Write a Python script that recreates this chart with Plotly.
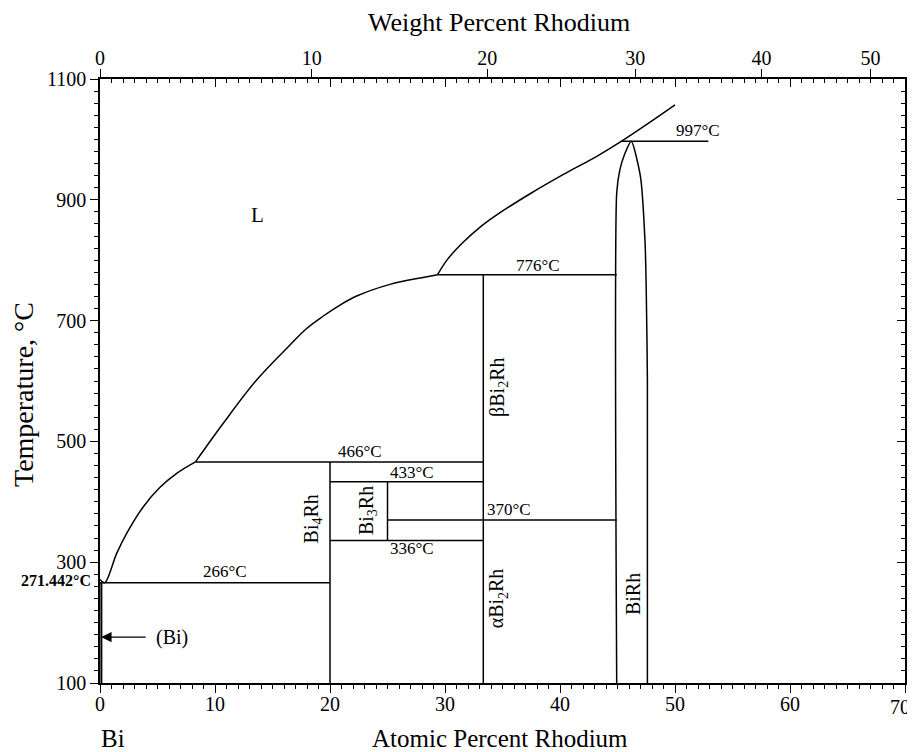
import plotly.graph_objects as go

# ---------------- data (atomic % Rh, temperature in degC) ----------------
M_BI = 208.98
M_RH = 102.906

liq_low_x = [0.0, 0.40, 1.45, 2.32, 3.77, 5.22, 6.67, 8.30]
liq_low_t = [271.442, 266, 314.7, 347.8, 391.9, 424, 447, 466]

liq_mid_x = [8.30, 10.72, 13.62, 16.52, 17.97, 19.42, 20.87, 22.32, 25.22, 28.1, 29.35]
liq_mid_t = [466, 530, 601.7, 659.6, 687, 707.6, 725.8, 740.7, 760, 771.5, 776]

liq_up_x = [29.35, 30.2, 31.6, 33.0, 34.5, 37.4, 40.3, 43.2, 45.36, 47.8, 50.0]
liq_up_t = [776, 801, 830, 854, 875, 910, 942, 972, 997, 1028, 1057]

birh_x = [44.93, 44.93, 45.2, 45.65, 46.2, 47.0, 47.4, 47.5, 47.6, 47.6]
birh_t = [100, 911, 949, 977, 997, 938, 828, 750, 600, 100]

# horizontal invariant lines: (x_start, x_end, T)
hlines = [
    (45.36, 52.9, 997),
    (29.35, 44.93, 776),
    (8.30, 33.33, 466),
    (20.0, 33.33, 433),
    (25.0, 44.93, 370),
    (20.0, 33.33, 336),
    (0.0, 20.0, 266),
]
# vertical phase lines: (x, T_low, T_high)
vlines = [
    (33.33, 100, 776),
    (20.0, 100, 466),
    (25.0, 336, 433),
]
bi_solvus_x = [0.12, 0.12]
bi_solvus_t = [100, 266]

temp_labels = [
    ("997°C", 52.0, 1014),
    ("776°C", 38.1, 792),
    ("466°C", 22.6, 484),
    ("433°C", 27.1, 449),
    ("370°C", 35.6, 388),
    ("336°C", 27.1, 322),
    ("266°C", 10.9, 284),
]
phase_labels_rot = [
    ("Bi<sub>4</sub>Rh", 18.5, 372),
    ("Bi<sub>3</sub>Rh", 23.2, 386),
    ("βBi<sub>2</sub>Rh", 34.6, 590),
    ("αBi<sub>2</sub>Rh", 34.6, 240),
    ("BiRh", 46.3, 248),
]

wt_ticks = [0, 10, 20, 30, 40, 50]
at_ticks = [0, 10, 20, 30, 40, 50, 60, 70]
t_ticks = [100, 300, 500, 700, 900, 1100]


def wt_to_at(w):
    a = w / M_RH
    b = (100 - w) / M_BI
    return 100 * a / (a + b)


FONT = "Liberation Serif"
LW = 1.5
# the page adds an 8px body margin around the figure
W, H = 907, 744
L, R, T, B = 92, 10, 71, 69
pw, ph = W - L - R, H - T - B


def px(page_x):
    return (page_x - 8 - L) / pw


def py(page_y):
    return (8 + H - B - page_y) / ph


fig = go.Figure()
line_style = dict(color="black", width=LW)

fig.add_trace(go.Scatter(x=liq_low_x, y=liq_low_t, mode="lines", line=dict(shape="spline", **line_style)))
fig.add_trace(go.Scatter(x=liq_mid_x, y=liq_mid_t, mode="lines", line=dict(shape="spline", **line_style)))
fig.add_trace(go.Scatter(x=liq_up_x, y=liq_up_t, mode="lines", line=dict(shape="spline", **line_style)))
fig.add_trace(go.Scatter(x=birh_x, y=birh_t, mode="lines", line=dict(shape="spline", smoothing=0.6, **line_style)))
for x0, x1, t in hlines:
    fig.add_trace(go.Scatter(x=[x0, x1], y=[t, t], mode="lines", line=line_style))
for x, t0, t1 in vlines:
    fig.add_trace(go.Scatter(x=[x, x], y=[t0, t1], mode="lines", line=line_style))
fig.add_trace(go.Scatter(x=bi_solvus_x, y=bi_solvus_t, mode="lines", line=dict(color="black", width=2)))

# invisible traces to activate the overlay axes
fig.add_trace(go.Scatter(x=[0], y=[100], xaxis="x2", mode="markers", marker=dict(opacity=0), hoverinfo="skip"))
fig.add_trace(go.Scatter(x=[0], y=[100], xaxis="x3", mode="markers", marker=dict(opacity=0), hoverinfo="skip"))
fig.add_trace(go.Scatter(x=[0], y=[100], yaxis="y2", mode="markers", marker=dict(opacity=0), hoverinfo="skip"))

for txt, x, t in temp_labels:
    fig.add_annotation(x=x, y=t, text=txt, showarrow=False, font=dict(family=FONT, size=17, color="black"))
for txt, x, t in phase_labels_rot:
    fig.add_annotation(x=x, y=t, text=txt, showarrow=False, textangle=-90,
                       font=dict(family=FONT, size=20, color="black"))
fig.add_annotation(x=13.7, y=875, text="L", showarrow=False, font=dict(family=FONT, size=21, color="black"))
# (Bi) arrow
fig.add_annotation(x=0.1, y=176, ax=4.1, ay=176, axref="x", ayref="y", xref="x", yref="y",
                   text="", showarrow=True, arrowhead=2, arrowsize=1.6, arrowwidth=1.3, arrowcolor="black")
fig.add_annotation(x=4.7, y=176, text="(Bi)", showarrow=False, xanchor="left",
                   font=dict(family=FONT, size=20, color="black"))
fig.add_annotation(x=0, y=269, xref="x", yref="y", text="<b>271.442°C</b>", showarrow=False, xanchor="right",
                   xshift=-7, font=dict(family=FONT, size=16, color="black"))

# last bottom tick label, drawn as an annotation so it is not dropped at the page edge
last_at = at_ticks[-1]
fig.add_annotation(x=last_at, y=py(707), xref="x", yref="paper", text=str(last_at), showarrow=False,
                   xanchor="right", yanchor="middle", xshift=7,
                   font=dict(family=FONT, size=20, color="black"))

extra = [
    dict(x=px(499), y=py(22), text="Weight Percent Rhodium", size=26, angle=0),
    dict(x=px(500), y=py(738), text="Atomic Percent Rhodium", size=25, angle=0),
    dict(x=px(113), y=py(738), text="Bi", size=25, angle=0),
    dict(x=px(23), y=py(395), text="Temperature, °C", size=28, angle=-90),
]
for e in extra:
    fig.add_annotation(x=e["x"], y=e["y"], xref="paper", yref="paper", text=e["text"], showarrow=False,
                       xanchor="center", yanchor="middle",
                       textangle=e["angle"], font=dict(family=FONT, size=e["size"], color="black"))

axis_common = dict(showgrid=False, zeroline=False, showline=True, linecolor="black", linewidth=LW,
                   automargin=False, ticklabeloverflow="allow",
                   tickcolor="black", tickwidth=1.2, tickfont=dict(family=FONT, size=20, color="black"))

fig.update_layout(
    width=W, height=H,
    margin=dict(l=L, r=R, t=T, b=B, autoexpand=False),
    paper_bgcolor="white", plot_bgcolor="white",
    showlegend=False,
    xaxis=dict(range=[0, 70], tickmode="array", tickvals=at_ticks,
               ticktext=[str(v) for v in at_ticks[:-1]] + [""],
               ticks="outside", ticklen=8, ticklabelstandoff=-6,
               minor=dict(ticks="outside", ticklen=4, dtick=1, tick0=0, tickcolor="black", tickwidth=1),
               **axis_common),
    xaxis2=dict(range=[0, 70], overlaying="x", side="top", anchor="y", tickmode="array",
                tickvals=[wt_to_at(w) for w in wt_ticks], ticktext=[str(w) for w in wt_ticks],
                ticks="outside", ticklen=8, ticklabelstandoff=-4, **axis_common),
    xaxis3=dict(range=[0, 70], overlaying="x", side="top", anchor="y", tickmode="array",
                tickvals=at_ticks, ticks="inside", ticklen=8, showticklabels=False,
                minor=dict(ticks="inside", ticklen=4, dtick=1, tick0=0, tickcolor="black", tickwidth=1),
                **axis_common),
    yaxis=dict(range=[100, 1100], tickmode="array", tickvals=t_ticks, ticktext=[str(v) for v in t_ticks],
               ticks="outside", ticklen=8,
               minor=dict(ticks="outside", ticklen=4, dtick=20, tick0=100, tickcolor="black", tickwidth=1),
               **axis_common),
    yaxis2=dict(range=[100, 1100], overlaying="y", side="right", anchor="x", tickmode="array",
                tickvals=t_ticks, ticks="inside", ticklen=8, showticklabels=False,
                minor=dict(ticks="inside", ticklen=4, dtick=20, tick0=100, tickcolor="black", tickwidth=1),
                **axis_common),
)

fig.write_html("out.html")
